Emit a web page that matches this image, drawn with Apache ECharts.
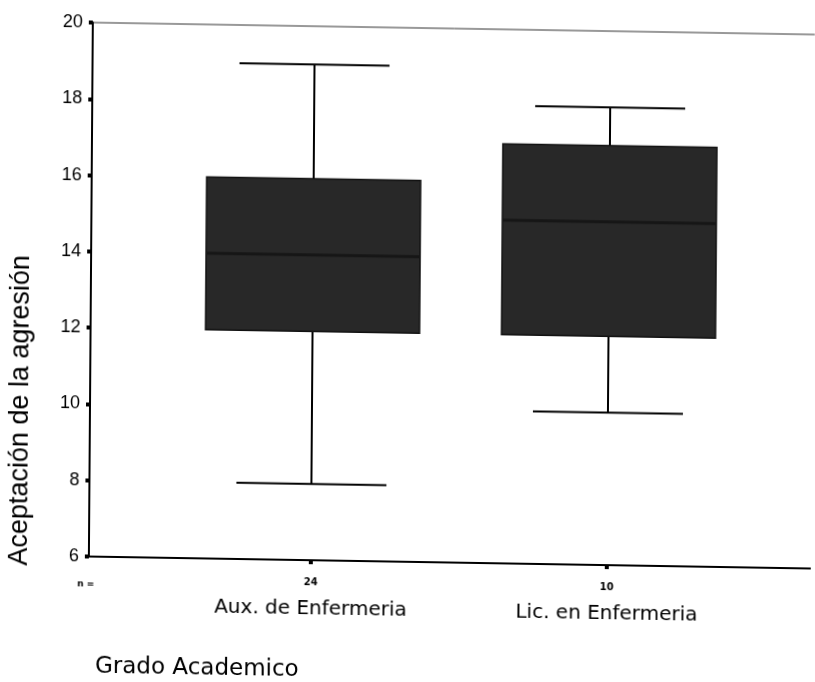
<!DOCTYPE html>
<html>
<head>
<meta charset="utf-8">
<script src="https://cdn.jsdelivr.net/npm/echarts@6/dist/echarts.min.js"></script>
<style>
  html, body { margin: 0; padding: 0; background: #fff; overflow: hidden; }
  /* slight shear, as in the printed page */
  #chart { width: 815px; height: 682px; transform-origin: 0 0; transform: matrix(1, 0.0166, -0.0074, 1, 0, 0); }
</style>
</head>
<body>
<div id="chart"></div>
<script>
// Acceptance of aggression by academic grade (box summaries)
const groups   = ['Aux. de Enfermeria', 'Lic. en Enfermeria'];
const counts   = [24, 10];
const minVals  = [8, 10];
const q1Vals   = [12, 12];
const medians  = [14, 15];
const q3Vals   = [16, 17];
const maxVals  = [19, 18];
const yTicks   = { min: 6, max: 20, step: 2 };

// category slots: the two groups sit on the 2nd and 4th slot of a wider axis
const slots = ['', groups[0], '', groups[1], '', ''];
const shown = idx => groups.includes(slots[idx]);

const boxData = groups.map((g, i) => [slots.indexOf(g), minVals[i], q1Vals[i], medians[i], q3Vals[i], maxVals[i]]);

function renderBox(params, api) {
  const x = api.value(0);
  const band = api.size([1, 0])[0];
  const halfBox = band * 0.723;
  const halfCap = band * 0.507;
  const pMin = api.coord([x, api.value(1)]);
  const pQ1 = api.coord([x, api.value(2)]);
  const pMed = api.coord([x, api.value(3)]);
  const pQ3 = api.coord([x, api.value(4)]);
  const pMax = api.coord([x, api.value(5)]);
  const cx = pMin[0];
  const line = { stroke: '#000', lineWidth: 2 };
  return {
    type: 'group',
    children: [
      { type: 'line', shape: { x1: cx, y1: pMax[1], x2: cx, y2: pQ3[1] }, style: line },
      { type: 'line', shape: { x1: cx, y1: pQ1[1], x2: cx, y2: pMin[1] }, style: line },
      { type: 'line', shape: { x1: cx - halfCap, y1: pMax[1], x2: cx + halfCap, y2: pMax[1] }, style: line },
      { type: 'line', shape: { x1: cx - halfCap, y1: pMin[1], x2: cx + halfCap, y2: pMin[1] }, style: line },
      { type: 'rect', shape: { x: cx - halfBox, y: pQ3[1], width: halfBox * 2, height: pQ1[1] - pQ3[1] },
        style: { fill: '#282828', stroke: '#111', lineWidth: 1.5 } },
      { type: 'line', shape: { x1: cx - halfBox, y1: pMed[1], x2: cx + halfBox, y2: pMed[1] },
        style: { stroke: '#161616', lineWidth: 3 } }
    ]
  };
}

const chart = echarts.init(document.getElementById('chart'), null, { renderer: 'canvas' });
chart.setOption({
  animation: false,
  backgroundColor: '#fff',
  grid: {
    left: 93, top: 21, width: 888, height: 534,
    containLabel: false, outerBoundsMode: 'none',
    show: true, borderColor: '#333', borderWidth: 1, backgroundColor: 'transparent'
  },
  xAxis: {
    type: 'category',
    data: slots,
    boundaryGap: true,
    axisLine: { show: true, lineStyle: { color: '#000', width: 2 } },
    axisTick: { show: true, alignWithLabel: true, interval: shown, length: 4, lineStyle: { color: '#000', width: 4 } },
    splitLine: { show: false },
    axisLabel: {
      interval: shown,
      margin: 14,
      hideOverlap: false,
      formatter: (v) => {
        const i = groups.indexOf(v);
        return '{n|' + counts[i] + '}\n{c|' + v + '}';
      },
      rich: {
        n: { fontFamily: 'DejaVu Sans', fontSize: 10, fontWeight: 'bold', color: '#000', lineHeight: 16 },
        c: { fontFamily: 'DejaVu Sans', fontSize: 20, color: '#000', lineHeight: 38 }
      }
    }
  },
  yAxis: {
    type: 'value',
    min: yTicks.min,
    max: yTicks.max,
    interval: yTicks.step,
    name: 'Aceptación de la agresión',
    nameLocation: 'middle',
    nameRotate: 90,
    nameGap: 56,
    nameTextStyle: { fontFamily: 'Liberation Sans', fontSize: 27, color: '#000', padding: [0, 244, 0, 0] },
    axisLine: { show: true, lineStyle: { color: '#000', width: 2 } },
    axisTick: { show: true, length: 4, lineStyle: { color: '#000', width: 4 } },
    splitLine: { show: false },
    axisLabel: { margin: 10, fontFamily: 'Liberation Sans', fontSize: 18, color: '#000' }
  },
  graphic: [
    { type: 'text', x: 90, y: 583, style: { text: 'n =', font: 'bold 9px "DejaVu Sans"', fill: '#000', align: 'center', verticalAlign: 'middle' } },
    { type: 'text', x: 100, y: 665, style: { text: 'Grado Academico', font: '23px "DejaVu Sans"', fill: '#000', align: 'left', verticalAlign: 'middle' } }
  ],
  series: [{
    type: 'custom',
    renderItem: renderBox,
    encode: { x: 0, y: [1, 2, 3, 4, 5] },
    data: boxData,
    clip: false
  }]
});
</script>
</body>
</html>
